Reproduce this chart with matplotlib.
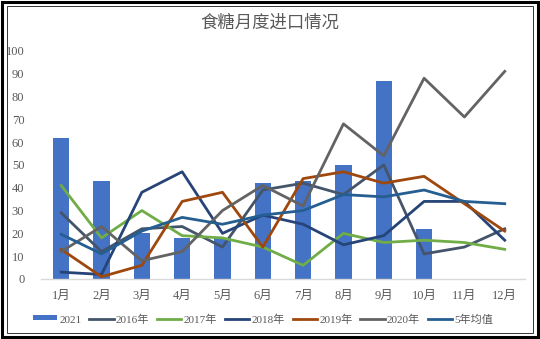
import numpy as np
import matplotlib
matplotlib.use("Agg")
import matplotlib.pyplot as plt
from matplotlib.patches import Rectangle

plt.rcParams['font.family'] = ['Liberation Serif', 'Noto Sans CJK SC', 'DejaVu Sans']

months = ['1月', '2月', '3月', '4月', '5月', '6月', '7月', '8月', '9月', '10月', '11月', '12月']
y2021 = [62, 43, 20, 18, 18, 42, 43, 50, 87, 22, np.nan, np.nan]
y2016 = [29, 12, 22, 23, 14, 39, 42, 37, 50, 11, 14, 22]
y2017 = [41, 18, 30, 19, 18, 14, 6, 20, 16, 17, 16, 13]
y2018 = [3, 2, 38, 47, 20, 28, 24, 15, 19, 34, 34, 17]
y2019 = [13, 1, 6, 34, 38, 14, 44, 47, 42, 45, 33, 21]
y2020 = [12, 23, 8, 12, 30, 41, 32, 68, 54, 88, 71, 91]
avg5 = [19.6, 11, 21, 27, 24, 28, 30, 37, 36, 39, 34, 33]
yticks = [0, 10, 20, 30, 40, 50, 60, 70, 80, 90, 100]

fig = plt.figure(figsize=(5.40, 3.39), dpi=100)
ax = fig.add_axes([0.076, 0.177, 0.896, 0.673])

x = np.arange(len(months))
bars = ax.bar(x, y2021, width=0.4, color='#4472C4', label='2021', zorder=2)
series = [
    (y2016, '#44546A', '2016年'),
    (y2017, '#70AD47', '2017年'),
    (y2018, '#264478', '2018年'),
    (y2019, '#9E480E', '2019年'),
    (y2020, '#636363', '2020年'),
    (avg5, '#255E91', '5年均值'),
]
handles = [bars]
labels = ['2021']
for vals, c, lab in series:
    ln, = ax.plot(x, vals, color=c, lw=2.0, label=lab, zorder=3)
    handles.append(ln)
    labels.append(lab)

ax.set_xlim(-0.5, len(months) - 0.5)
ax.set_ylim(0, 100)
ax.set_yticks(yticks)
ax.set_xticks(x)
ax.set_xticklabels(months)
ax.tick_params(axis='both', length=0, labelsize=9, labelcolor='#595959')
ax.tick_params(axis='y', pad=12)
ax.tick_params(axis='x', pad=8)
for s in ['top', 'right', 'left']:
    ax.spines[s].set_visible(False)
ax.spines['bottom'].set_color('#D9D9D9')
ax.spines['bottom'].set_linewidth(1.0)

fig.text(0.5, 0.932, '食糖月度进口情况', ha='center', va='center', fontsize=12.5,
         color='#595959', family=['Noto Sans CJK SC', 'DejaVu Sans'])

leg = fig.legend(handles, labels, loc='center', bbox_to_anchor=(0.487, 0.058), ncol=7,
                 frameon=False, fontsize=8, handlelength=2.2, handletextpad=0.2,
                 columnspacing=0.7, labelcolor='#595959')
for h in leg.legend_handles:
    if isinstance(h, Rectangle):
        h.set_height(3.5)
        h.set_y(h.get_y() + 2)

# double frame border
fig.patches.append(Rectangle((0.003, 0.005), 0.994, 0.99, transform=fig.transFigure,
                             fill=False, edgecolor='black', lw=2.2))
fig.patches.append(Rectangle((0.013, 0.018), 0.974, 0.964, transform=fig.transFigure,
                             fill=False, edgecolor='#333333', lw=0.7))

fig.savefig('out.png', dpi=100)
